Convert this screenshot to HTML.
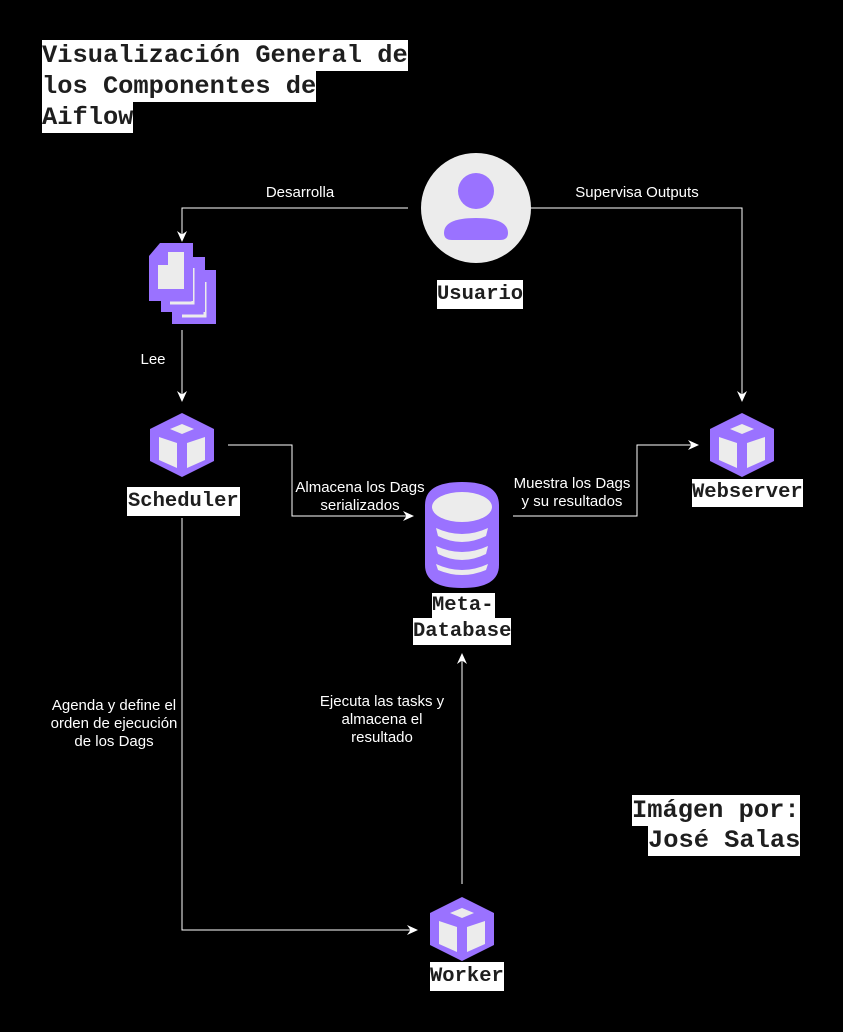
<!DOCTYPE html>
<html><head><meta charset="utf-8"><style>
html,body{margin:0;padding:0;background:#000;}
body{width:843px;height:1032px;position:relative;overflow:hidden;font-family:"Liberation Sans",sans-serif;}
.m{position:absolute;background:#fff;color:#1e1e1e;font-family:"Liberation Mono",monospace;font-weight:bold;white-space:nowrap;line-height:1;}
.t{position:absolute;color:#fff;font-size:15px;text-align:center;line-height:18px;white-space:nowrap;transform:translateX(-50%);}
svg{position:absolute;left:0;top:0;}
</style></head><body>
<svg width="843" height="1032" viewBox="0 0 843 1032">
<defs>
<marker id="a" markerWidth="14" markerHeight="14" refX="10" refY="6" orient="auto" markerUnits="userSpaceOnUse">
<path d="M0,1 L11,6 L0,11 L3.5,6 Z" fill="#fff"/></marker>
<g id="cube">
<polygon points="32,0 64,16 64,48 32,64 0,48 0,16" fill="#9a72ff"/>
<polygon points="32,11 44,16 32,21 20,16" fill="#ececec"/>
<polygon points="9,24 27,30 27,55 9,47" fill="#ececec"/>
<polygon points="55,24 37,30 37,55 55,47" fill="#ececec"/>
</g>
</defs>
<g fill="none" stroke="#fff" stroke-width="1">
<polyline points="408,208 182,208 182,241" marker-end="url(#a)"/>
<polyline points="510,208 742,208 742,401" marker-end="url(#a)"/>
<polyline points="182,330 182,401" marker-end="url(#a)"/>
<polyline points="228,445 292,445 292,516 413,516" marker-end="url(#a)"/>
<polyline points="513,516 637,516 637,445 698,445" marker-end="url(#a)"/>
<polyline points="182,518 182,930 417,930" marker-end="url(#a)"/>
<polyline points="462,884 462,654" marker-end="url(#a)"/>
</g>
<circle cx="476" cy="208" r="55" fill="#ececec"/>
<circle cx="476" cy="191" r="18" fill="#9a72ff"/>
<path d="M444,233 Q444,218 476,218 Q508,218 508,233 Q508,240 500,240 L452,240 Q444,240 444,233 Z" fill="#9a72ff"/>
<!-- files -->
<rect x="172" y="270" width="44" height="54" fill="#9a72ff"/>
<polyline points="205,282 205,316 182,316" fill="none" stroke="#ececec" stroke-width="3"/>
<rect x="161" y="257" width="44" height="55" fill="#9a72ff"/>
<polyline points="193,268 193,303 170,303" fill="none" stroke="#ececec" stroke-width="3"/>
<polygon points="160,243 193,243 193,301 149,301 149,256" fill="#9a72ff"/>
<polygon points="168,252 184,252 184,289 158,289 158,265 168,265" fill="#ececec"/>
<polygon points="162,262 166,258 166,262" fill="#9a72ff"/>
<use href="#cube" x="150" y="413"/>
<use href="#cube" x="710" y="413"/>
<use href="#cube" x="430" y="897"/>
<!-- db -->
<path d="M425,505 Q425,482 462,482 Q499,482 499,505 L499,565 Q499,588 462,588 Q425,588 425,565 Z" fill="#9a72ff"/>
<ellipse cx="462" cy="507" rx="30" ry="15" fill="#ececec"/>
<path d="M436,528 Q462,540 488,528 L486,536 Q462,548 438,536 Z" fill="#ececec"/>
<path d="M436,546 Q462,558 488,546 L486,554 Q462,566 438,554 Z" fill="#ececec"/>
<path d="M436,564 Q462,576 488,564 L486,570 Q462,580 438,570 Z" fill="#ececec"/>
</svg>
<div class="m" style="left:42px;top:40px;height:31px;font-size:25.4px;line-height:31px;">Visualización General de</div>
<div class="m" style="left:42px;top:71px;height:31px;font-size:25.4px;line-height:31px;">los Componentes de</div>
<div class="m" style="left:42px;top:102px;height:31px;font-size:25.4px;line-height:31px;">Aiflow</div>
<div class="m" style="left:437px;top:280px;font-size:20.5px;line-height:29px;">Usuario</div>
<div class="m" style="left:127px;top:487px;font-size:20.5px;line-height:29px;padding:0 1px;">Scheduler</div>
<div class="m" style="left:692px;top:479px;font-size:20.5px;line-height:28px;">Webserver</div>
<div class="m" style="left:432px;top:593px;font-size:20.5px;line-height:25px;padding-right:1px;">Meta-</div>
<div class="m" style="left:413px;top:618px;font-size:20.5px;line-height:27px;">Database</div>
<div class="m" style="left:430px;top:962px;font-size:20.5px;line-height:29px;">Worker</div>
<div class="m" style="left:632px;top:795px;font-size:25.4px;line-height:31px;">Imágen por:</div>
<div class="m" style="left:648px;top:826px;font-size:25.4px;line-height:30px;">José Salas</div>
<div class="t" style="left:300px;top:184px;">Desarrolla</div>
<div class="t" style="left:637px;top:184px;">Supervisa Outputs</div>
<div class="t" style="left:153px;top:351px;">Lee</div>
<div class="t" style="left:360px;top:479px;">Almacena los Dags<br>serializados</div>
<div class="t" style="left:572px;top:475px;">Muestra los Dags<br>y su resultados</div>
<div class="t" style="left:114px;top:697px;">Agenda y define el<br>orden de ejecución<br>de los Dags</div>
<div class="t" style="left:382px;top:693px;">Ejecuta las tasks y<br>almacena el<br>resultado</div>
</body></html>
